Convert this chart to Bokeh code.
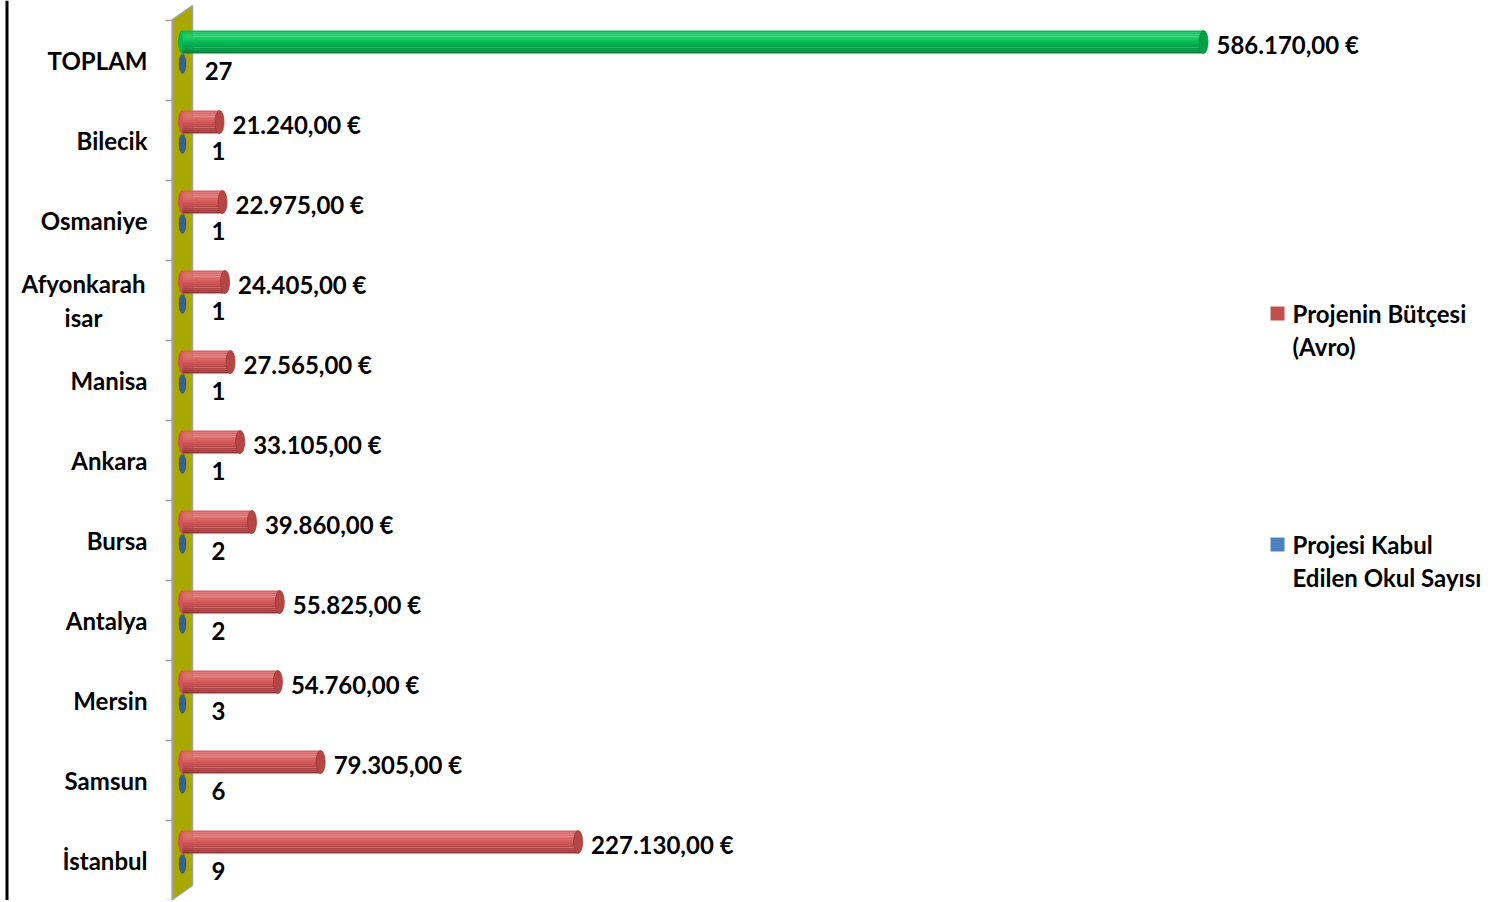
import numpy as np
from bokeh.plotting import figure
from bokeh.models import Range1d, ColumnDataSource
from bokeh.core.properties import value
from bokeh.embed import file_html
from bokeh.resources import INLINE

# ---------------- data ----------------
categories = ["İstanbul", "Samsun", "Mersin", "Antalya", "Bursa", "Ankara",
              "Manisa", "Afyonkarahisar", "Osmaniye", "Bilecik", "TOPLAM"]
cat_labels = ["İstanbul", "Samsun", "Mersin", "Antalya", "Bursa", "Ankara",
              "Manisa", "Afyonkarah\nisar", "Osmaniye", "Bilecik", "TOPLAM"]
budget = [227130, 79305, 54760, 55825, 39860, 33105, 27565, 24405, 22975, 21240, 586170]
schools = [9, 6, 3, 2, 2, 1, 1, 1, 1, 1, 27]
series_names = ["Projenin Bütçesi\n(Avro)", "Projesi Kabul\nEdilen Okul Sayısı"]

# ---------------- layout helpers ----------------
W, H = 1490, 900
X0 = 182          # pixel of value 0
XMAX_PX = 1203    # pixel of largest value
BAND = 80         # pixels per category
Y0 = 860          # pixel of first category centre
k = (XMAX_PX - X0) / max(budget)

def px_x(px):
    return (px - X0) / k

def px_y(py):
    return (Y0 - py) / BAND

FONT = value("Lato")
FS = "24px"
LH = 1.15

p = figure(width=W, height=H,
           x_range=Range1d(px_x(0), px_x(W)), y_range=Range1d(px_y(H), px_y(0)),
           x_axis_type=None, y_axis_type=None,
           output_backend="svg", toolbar_location=None,
           min_border=0, outline_line_color=None)
p.grid.visible = False
p.background_fill_color = "white"
p.border_fill_color = "white"

n = len(categories)
idx = np.arange(n)

# left chart border
p.segment(x0=[px_x(6.5)], y0=[px_y(0)], x1=[px_x(6.5)], y1=[px_y(H)],
          line_color="black", line_width=3)

# 3D wall
p.patch(x=[px_x(172), px_x(192), px_x(192), px_x(172)],
        y=[px_y(19), px_y(5), px_y(885), px_y(899)],
        fill_color="#A8A800", line_color="#A0A0A0", line_width=1.5)

# axis line and ticks at category boundaries
p.segment(x0=[px_x(172)], y0=[-0.5], x1=[px_x(172)], y1=[n - 0.5],
          line_color="#A0A0A0", line_width=2)
bounds = np.arange(-0.5, n, 1.0)
p.segment(x0=[px_x(165)] * len(bounds), y0=bounds, x1=[px_x(172)] * len(bounds), y1=bounds,
          line_color="#A0A0A0", line_width=1.5)

# count series (tiny cylinders seen end-on)
p.ellipse(x=schools, y=idx - 0.04, width=7, height=19,
          width_units="screen", height_units="screen",
          fill_color="#3B5F8F", line_color="#2F4F7A", line_width=0.5)

# budget series as shaded cylinders
is_total = [c == "TOPLAM" for c in categories]
red_stops = ["#D65E5E", "#E47272", "#D35959", "#B84848", "#8E3131"]
green_stops = ["#06B451", "#22D46F", "#05BA55", "#03A047", "#027A35"]
red_cap, green_cap = "#B64646", "#04A048"
red_mid, green_mid = "#CF5656", "#05B452"

def hex2rgb(h):
    return np.array([int(h[i:i + 2], 16) for i in (1, 3, 5)], dtype=float)

def interp(stops, t):
    pos = t * (len(stops) - 1)
    i = min(int(pos), len(stops) - 2)
    f = pos - i
    c = hex2rgb(stops[i]) * (1 - f) + hex2rgb(stops[i + 1]) * f
    return "#%02x%02x%02x" % tuple(int(round(v)) for v in c)

yc = idx + 18.5 / BAND
bh = 23 / BAND

# left rounded end
p.ellipse(x=[0] * n, y=yc, width=9, height=23, width_units="screen", height_units="screen",
          fill_color=[green_mid if t else red_mid for t in is_total], line_color=None)

NS = 12
for s in range(NS):
    t = (s + 0.5) / NS
    cols = [interp(green_stops if tt else red_stops, t) for tt in is_total]
    src = ColumnDataSource(dict(y=yc + bh / 2 - (s + 0.5) * bh / NS,
                                right=budget, color=cols))
    p.hbar(y="y", left=0, right="right", height=bh / NS + 0.002, source=src,
           fill_color="color", line_color=None)

# right caps
p.ellipse(x=budget, y=yc, width=9, height=23, width_units="screen", height_units="screen",
          fill_color=[green_cap if t else red_cap for t in is_total],
          line_color=["#038A3E" if t else "#9A3838" for t in is_total], line_width=0.8)

# value labels
def fmt_eur(v):
    s = f"{v:,.2f}"
    return s.replace(",", "X").replace(".", ",").replace("X", ".") + " €"

p.text(x=budget, y=idx + 0.2, text=[fmt_eur(v) for v in budget],
       x_offset=13, text_align="left", text_baseline="middle",
       text_font=FONT, text_font_style="bold", text_font_size=FS, text_color="black")
p.text(x=schools, y=idx - 0.125, text=[str(v) for v in schools],
       x_offset=36, text_align="center", text_baseline="middle",
       text_font=FONT, text_font_style="bold", text_font_size=FS, text_color="black")

# category labels
multi = ["\n" in l for l in cat_labels]
csrc = ColumnDataSource(dict(
    x=[0] * n, y=idx, text=cat_labels,
    xo=[-99 if m else -35 for m in multi],
    align=["center" if m else "right" for m in multi]))
p.text(x="x", y="y", text="text", x_offset="xo", text_align="align", source=csrc,
       text_baseline="middle", text_line_height=1.18,
       text_font=FONT, text_font_style="bold", text_font_size=FS, text_color="black")

# legend
leg_colors = ["#C0504D", "#4F81BD"]
leg_sq_y = [313, 544]
p.rect(x=[px_x(1277)] * 2, y=[px_y(v) for v in leg_sq_y], width=14, height=14,
       width_units="screen", height_units="screen", fill_color=leg_colors, line_color=None)
p.text(x=[px_x(1292)] * 2, y=[px_y(v + 16.5) for v in leg_sq_y], text=series_names,
       text_align="left", text_baseline="middle", text_line_height=LH,
       text_font=FONT, text_font_style="bold", text_font_size=FS, text_color="black")

open("out.html", "w").write(file_html(p, INLINE))
